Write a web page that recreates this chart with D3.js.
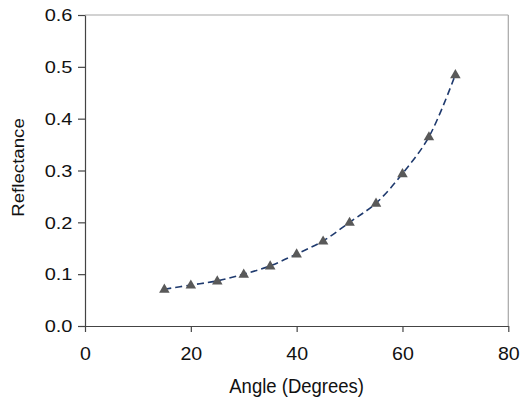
<!DOCTYPE html>
<html>
<head>
<meta charset="utf-8">
<script src="https://cdn.jsdelivr.net/npm/d3@7"></script>
<style>
  html, body { margin: 0; padding: 0; background: #fff; }
  svg { display: block; }
  text { font-family: "Liberation Sans", Arial, sans-serif; fill: #111; }
</style>
</head>
<body>
<svg id="chart" width="520" height="403"></svg>
<script>
// Data
const angles = [15, 20, 25, 30, 35, 40, 45, 50, 55, 60, 65, 70];
const reflectance = [0.071, 0.079, 0.087, 0.100, 0.116, 0.139, 0.164, 0.200, 0.237, 0.294, 0.365, 0.485];
const xTicks = [0, 20, 40, 60, 80];
const yTicks = [0.0, 0.1, 0.2, 0.3, 0.4, 0.5, 0.6];
const xTitle = "Angle (Degrees)";
const yTitle = "Reflectance";

(function () {
const svg = d3.select("#chart");
const pL = 85, pR = 508.3, pT = 15, pB = 326;

const x = d3.scaleLinear().domain([0, 80]).range([pL, pR]);
const y = d3.scaleLinear().domain([0, 0.6]).range([pB, pT]);

// top & right border (light gray)
svg.append("line").attr("x1", pL).attr("x2", pR).attr("y1", pT).attr("y2", pT)
  .attr("stroke", "#a6a6a6").attr("stroke-width", 1.2);
svg.append("line").attr("x1", pR).attr("x2", pR).attr("y1", pT).attr("y2", pB)
  .attr("stroke", "#a6a6a6").attr("stroke-width", 1.2);

// y axis
const gy = svg.append("g").attr("transform", `translate(${pL},0)`)
  .call(d3.axisLeft(y).tickValues(yTicks).tickFormat(d3.format(".1f")).tickSize(7).tickSizeOuter(0));
gy.select(".domain").attr("stroke", "#444").attr("stroke-width", 1.2);
gy.selectAll(".tick line").attr("stroke", "#444").attr("stroke-width", 1.2);
gy.selectAll(".tick text")
  .attr("x", 0).attr("dy", "0.36em")
  .attr("transform", "translate(-12.5,0) scale(1.25,1)")
  .style("font-size", "16px").attr("fill", "#111");

// x axis
const gx = svg.append("g").attr("transform", `translate(0,${pB})`)
  .call(d3.axisBottom(x).tickValues(xTicks).tickFormat(d3.format("d")).tickSize(6).tickSizeOuter(0));
gx.select(".domain").attr("stroke", "#444").attr("stroke-width", 1.2);
gx.selectAll(".tick line").attr("stroke", "#444").attr("stroke-width", 1.2);
gx.selectAll(".tick text")
  .attr("y", 0).attr("dy", 0)
  .attr("transform", "translate(0,34) scale(1.06,1)")
  .style("font-size", "18.5px").attr("fill", "#111");

// axis titles
svg.append("text")
  .attr("text-anchor", "middle")
  .attr("transform", `translate(${(pL + pR) / 2},393) scale(0.95,1)`)
  .style("font-size", "19.5px")
  .text(xTitle);

svg.append("text")
  .attr("text-anchor", "middle")
  .attr("transform", `translate(24,167.5) rotate(-90) scale(1.1,1)`)
  .style("font-size", "17px")
  .text(yTitle);

// data
const data = angles.map((a, i) => ({ a, r: reflectance[i] }));

const line = d3.line()
  .x(d => x(d.a))
  .y(d => y(d.r))
  .curve(d3.curveCatmullRom.alpha(0.5));

svg.append("path")
  .datum(data)
  .attr("d", line)
  .attr("fill", "none")
  .attr("stroke", "#1f3a6e")
  .attr("stroke-width", 1.6)
  .attr("stroke-dasharray", "7,4");

const tri = d3.symbol().type(d3.symbolTriangle).size(48);
svg.append("g").selectAll("path")
  .data(data)
  .join("path")
  .attr("d", tri)
  .attr("transform", d => `translate(${x(d.a)},${y(d.r) + 0.5})`)
  .attr("fill", "#595959");
})();
</script>
</body>
</html>
